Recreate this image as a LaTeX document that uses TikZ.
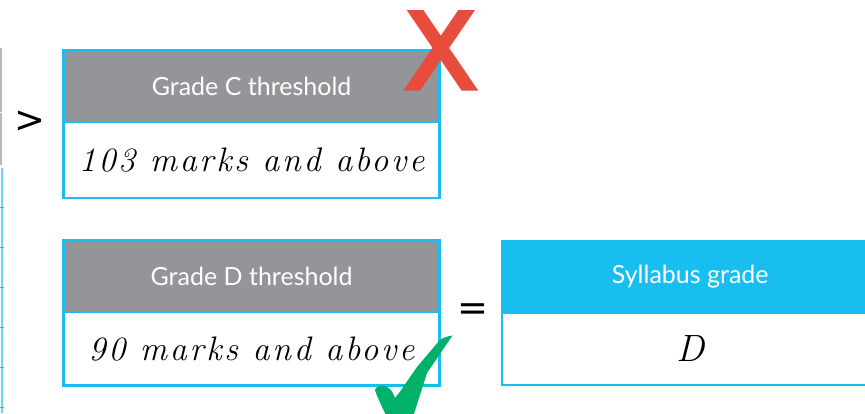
\documentclass[tikz,border=0pt]{standalone}
\usepackage{fontspec}
\setmainfont{Lato}
\newfontfamily\symfont{DejaVu Sans}
\newfontfamily\handfont{Latin Modern Roman}[LetterSpace=8.0]
\newcommand{\handw}{\handfont\itshape}
\definecolor{hdgray}{RGB}{147,149,152}
\definecolor{cbblue}{RGB}{24,190,239}
\definecolor{ltblue}{RGB}{110,210,245}
\definecolor{edgegray}{RGB}{185,185,188}
\definecolor{xred}{RGB}{232,76,61}
\definecolor{okgreen}{RGB}{0,177,106}
\tikzset{
  boxpart/.style={draw=cbblue, line width=2.5pt, minimum width=375.8pt, inner sep=0pt, outer sep=0pt},
  headbox/.style={boxpart, fill=hdgray, text=white, minimum height=71.5pt, font=\fontsize{25}{30}\selectfont},
  bodybox/.style={boxpart, fill=white, text=black, font=\handw\fontsize{34}{40}\selectfont},
  symb/.style={inner sep=0pt, font=\symfont\fontsize{37}{42}\selectfont}
}
\begin{document}
\begin{tikzpicture}[x=1pt,y=-1pt]
\useasboundingbox (0,0) rectangle (865,413);
\clip (0,0) rectangle (865,413);
% remnants at left edge
\draw[edgegray, line width=1.6pt] (0.8,48) -- (0.8,111.5);
\draw[edgegray, line width=1.6pt] (0.8,113) -- (0.8,165);
\draw[ltblue, line width=2.4pt] (2,168) -- (2,413);
\foreach \yy in {207.7,247.7,287.7,327.7,367.7,407.7}
  \draw[cbblue, line width=0.9pt] (0,\yy) -- (4,\yy);
% box C
\node[headbox] (chead) at (251.6,86.25) {Grade C threshold};
\node[bodybox, minimum height=75.8pt, anchor=north] (cbody) at (chead.south) {103 marks and above};
% box D
\node[headbox] (dhead) at (251.6,276.25) {Grade D threshold};
\node[bodybox, minimum height=73.5pt, anchor=north] (dbody) at (dhead.south) {90 marks and above};
% syllabus grade
\node[headbox, fill=cbblue, minimum width=376pt, anchor=north west] (shead) at (502.2,241) {Syllabus grade};
\node[bodybox, minimum width=376pt, minimum height=72.5pt, anchor=north] (sbody) at (shead.south) {\fontsize{38}{42}\selectfont D};
% symbols
\node[symb] (gt) at (30,121.5) {>};
\node[symb] (eq) at (473,312.5) {=};
% red cross
\fill[xred] (406.7,10) -- (423.3,10) -- (478.3,90.7) -- (461.7,90.7) -- cycle;
\fill[xred] (458.3,10) -- (475,10) -- (420,90.7) -- (403.3,90.7) -- cycle;
% green tick
\fill[okgreen] (452.5,335.5) .. controls (448,336) and (442,338) .. (439,341)
  -- (417,367) -- (400,391.7) -- (395,398)
  .. controls (393,392) and (390,388) .. (386,386.5)
  .. controls (382,385) and (376,386) .. (375,390)
  .. controls (377,397) and (381,404) .. (388,420)
  -- (412,420) -- (427,373) -- cycle;
\end{tikzpicture}
\end{document}
